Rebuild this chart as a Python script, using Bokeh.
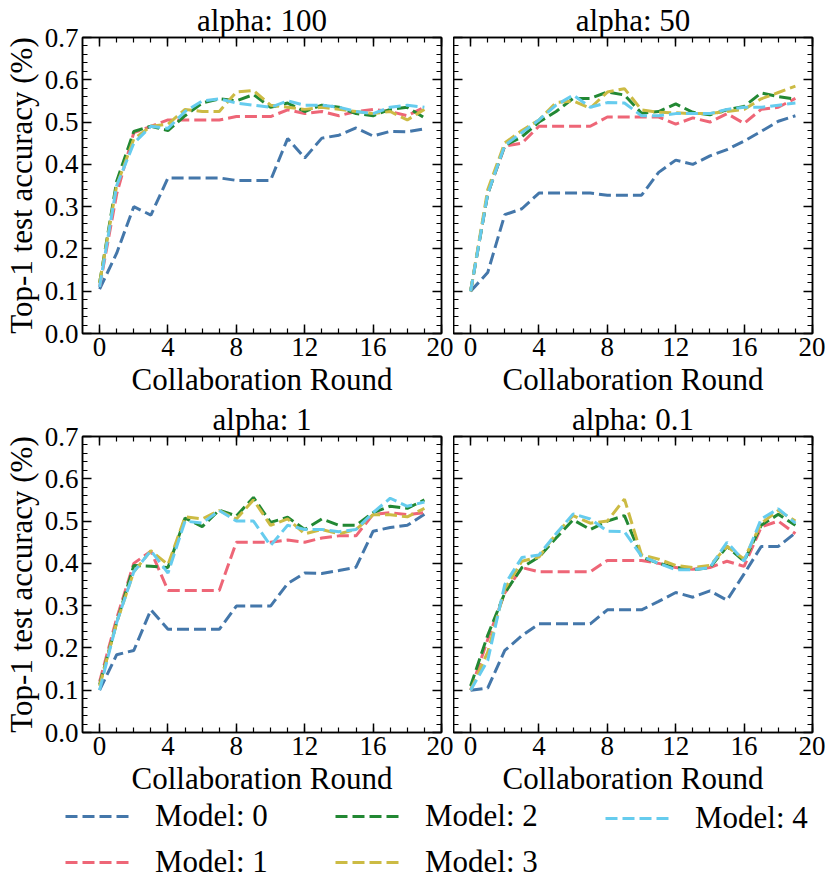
from bokeh.plotting import figure
from bokeh.models import (Range1d, FixedTicker, LinearAxis, Legend, LegendItem,
                          PrintfTickFormatter, CustomLabelingPolicy)
from bokeh.layouts import column, row
from bokeh.embed import file_html
from bokeh.resources import INLINE

# ---------------- data ----------------
rounds = list(range(20))
titles = ["alpha: 100", "alpha: 50", "alpha: 1", "alpha: 0.1"]
model_names = ["Model: 0", "Model: 1", "Model: 2", "Model: 3", "Model: 4"]
colors = ["#4477AA", "#EE6677", "#228833", "#CCBB44", "#66CCEE"]
x_ticks = [0, 4, 8, 12, 16, 20]
y_ticks = [0.0, 0.1, 0.2, 0.3, 0.4, 0.5, 0.6, 0.7]
x_label = "Collaboration Round"
y_label = "Top-1 test accuracy (%)"

# alpha: 100
a100_m0 = [0.105, 0.19, 0.30, 0.28, 0.368, 0.368, 0.368, 0.368, 0.362, 0.362,
           0.362, 0.461, 0.415, 0.462, 0.469, 0.486, 0.467, 0.478, 0.477, 0.484]
a100_m1 = [0.11, 0.33, 0.475, 0.49, 0.505, 0.505, 0.505, 0.505, 0.513, 0.513,
           0.513, 0.529, 0.52, 0.525, 0.515, 0.525, 0.53, 0.525, 0.515, 0.535]
a100_m2 = [0.12, 0.36, 0.478, 0.49, 0.48, 0.515, 0.545, 0.555, 0.55, 0.565,
           0.535, 0.545, 0.525, 0.54, 0.535, 0.52, 0.515, 0.53, 0.535, 0.51]
a100_m3 = [0.12, 0.35, 0.46, 0.49, 0.495, 0.53, 0.525, 0.525, 0.571, 0.575,
           0.54, 0.535, 0.53, 0.535, 0.53, 0.525, 0.52, 0.525, 0.505, 0.53]
a100_m4 = [0.11, 0.35, 0.45, 0.49, 0.485, 0.525, 0.55, 0.555, 0.545, 0.54,
           0.535, 0.55, 0.54, 0.54, 0.535, 0.525, 0.52, 0.535, 0.54, 0.535]

# alpha: 50
a50_m0 = [0.10, 0.144, 0.281, 0.295, 0.332, 0.332, 0.332, 0.332, 0.327, 0.327,
          0.327, 0.381, 0.41, 0.40, 0.42, 0.435, 0.455, 0.478, 0.502, 0.515]
a50_m1 = [0.10, 0.33, 0.443, 0.45, 0.49, 0.49, 0.49, 0.49, 0.512, 0.512,
          0.512, 0.512, 0.495, 0.51, 0.50, 0.52, 0.497, 0.53, 0.535, 0.556]
a50_m2 = [0.10, 0.33, 0.445, 0.465, 0.50, 0.525, 0.556, 0.556, 0.571, 0.564,
          0.521, 0.525, 0.543, 0.523, 0.517, 0.529, 0.537, 0.569, 0.56, 0.554]
a50_m3 = [0.10, 0.34, 0.451, 0.48, 0.505, 0.546, 0.55, 0.533, 0.571, 0.579,
          0.529, 0.523, 0.522, 0.52, 0.52, 0.525, 0.53, 0.555, 0.57, 0.585]
a50_m4 = [0.10, 0.33, 0.445, 0.475, 0.505, 0.54, 0.564, 0.535, 0.546, 0.545,
          0.515, 0.515, 0.52, 0.52, 0.52, 0.53, 0.535, 0.535, 0.54, 0.545]

# alpha: 1
a1_m0 = [0.10, 0.184, 0.194, 0.29, 0.244, 0.244, 0.244, 0.244, 0.299, 0.299,
         0.299, 0.352, 0.377, 0.376, 0.383, 0.391, 0.476, 0.485, 0.49, 0.516]
a1_m1 = [0.12, 0.27, 0.40, 0.429, 0.336, 0.336, 0.336, 0.336, 0.45, 0.45,
         0.45, 0.455, 0.45, 0.46, 0.465, 0.465, 0.516, 0.52, 0.515, 0.52]
a1_m2 = [0.113, 0.26, 0.395, 0.393, 0.39, 0.507, 0.487, 0.526, 0.512, 0.556,
         0.497, 0.509, 0.48, 0.505, 0.49, 0.49, 0.52, 0.535, 0.53, 0.55]
a1_m3 = [0.11, 0.26, 0.38, 0.43, 0.397, 0.51, 0.505, 0.525, 0.505, 0.55,
         0.49, 0.505, 0.47, 0.48, 0.47, 0.48, 0.515, 0.515, 0.51, 0.53]
a1_m4 = [0.10, 0.26, 0.38, 0.43, 0.377, 0.50, 0.495, 0.525, 0.50, 0.50,
         0.442, 0.49, 0.48, 0.48, 0.475, 0.48, 0.52, 0.554, 0.535, 0.545]

# alpha: 0.1
a01_m0 = [0.10, 0.105, 0.194, 0.229, 0.257, 0.257, 0.257, 0.257, 0.29, 0.29,
          0.29, 0.31, 0.331, 0.32, 0.335, 0.313, 0.375, 0.44, 0.44, 0.472]
a01_m1 = [0.10, 0.22, 0.33, 0.39, 0.38, 0.38, 0.38, 0.38, 0.407, 0.407,
          0.407, 0.40, 0.39, 0.386, 0.39, 0.405, 0.393, 0.486, 0.50, 0.47]
a01_m2 = [0.11, 0.23, 0.33, 0.39, 0.415, 0.46, 0.503, 0.48, 0.50, 0.513,
          0.415, 0.40, 0.39, 0.385, 0.39, 0.44, 0.405, 0.49, 0.516, 0.49]
a01_m3 = [0.10, 0.19, 0.34, 0.405, 0.415, 0.47, 0.513, 0.495, 0.50, 0.552,
          0.42, 0.41, 0.395, 0.39, 0.395, 0.44, 0.41, 0.495, 0.525, 0.50]
a01_m4 = [0.10, 0.17, 0.35, 0.414, 0.42, 0.47, 0.517, 0.505, 0.476, 0.475,
          0.417, 0.40, 0.385, 0.385, 0.39, 0.45, 0.405, 0.505, 0.529, 0.495]

panels = [
    [a100_m0, a100_m1, a100_m2, a100_m3, a100_m4],
    [a50_m0, a50_m1, a50_m2, a50_m3, a50_m4],
    [a1_m0, a1_m1, a1_m2, a1_m3, a1_m4],
    [a01_m0, a01_m1, a01_m2, a01_m3, a01_m4],
]

# ---------------- style ----------------
FONT = "Liberation Serif"
TICK_FS = "27px"
LABEL_FS = "31px"
DASH = "12 5"
FRAME_W = 359
FRAME_H = 296

x_minor = list(range(0, 21))
y_minor = [round(0.02 * i, 2) for i in range(36)]

NO_LABELS = """
for (const i of indices) { indices.unset(i) }
return indices
"""


def style_axis(ax, show_labels):
    ax.major_tick_in = 9
    ax.major_tick_out = 0
    ax.minor_tick_in = 5
    ax.minor_tick_out = 0
    ax.axis_line_color = "black"
    ax.axis_line_width = 1.5
    ax.major_tick_line_color = "black"
    ax.minor_tick_line_color = "black"
    ax.major_tick_line_width = 1.5
    ax.minor_tick_line_width = 1.2
    ax.major_label_text_font = FONT
    ax.major_label_text_font_size = TICK_FS
    ax.major_label_text_color = "black"
    ax.axis_label_text_font = FONT
    ax.axis_label_text_font_size = LABEL_FS
    ax.axis_label_text_font_style = "normal"
    ax.axis_label_text_color = "black"
    ax.major_label_standoff = 4
    ax.axis_label_standoff = 3
    if not show_labels:
        ax.major_label_text_font_size = "0px"
        ax.major_label_standoff = 0
        ax.major_label_policy = CustomLabelingPolicy(code=NO_LABELS)


def make_panel(idx):
    left = idx in (0, 2)
    p = figure(frame_width=FRAME_W, frame_height=FRAME_H,
               x_range=Range1d(-1, 20), y_range=Range1d(0, 0.7),
               title=titles[idx], output_backend="svg", toolbar_location=None,
               min_border_left=78 if left else 0,
               min_border_right=12 if left else 13,
               min_border_top=0, min_border_bottom=0)
    p.background_fill_color = "white"
    p.border_fill_color = "white"
    p.outline_line_color = "black"
    p.outline_line_width = 1.5
    p.xgrid.visible = False
    p.ygrid.visible = False
    p.title.text_font = FONT
    p.title.text_font_size = LABEL_FS
    p.title.text_font_style = "normal"
    p.title.text_color = "black"
    p.title.align = "center"
    p.title.standoff = 0

    xa = p.xaxis[0]
    xa.ticker = FixedTicker(ticks=x_ticks, minor_ticks=x_minor)
    xa.axis_label = x_label
    style_axis(xa, True)

    ya = p.yaxis[0]
    ya.ticker = FixedTicker(ticks=y_ticks, minor_ticks=y_minor)
    ya.formatter = PrintfTickFormatter(format="%.1f")
    if left:
        ya.axis_label = y_label
    style_axis(ya, left)

    top = LinearAxis(ticker=FixedTicker(ticks=x_ticks, minor_ticks=x_minor))
    style_axis(top, False)
    p.add_layout(top, "above")
    right = LinearAxis(ticker=FixedTicker(ticks=y_ticks, minor_ticks=y_minor))
    style_axis(right, False)
    p.add_layout(right, "right")

    for k, series in enumerate(panels[idx]):
        p.line(rounds, series, line_color=colors[k], line_dash=DASH,
               line_width=3)
    return p


figs = [make_panel(i) for i in range(4)]

# ---------------- legend ----------------
LEG_H = 92
lf = figure(width=823, height=LEG_H, output_backend="svg", toolbar_location=None,
            x_axis_type=None, y_axis_type=None, min_border=0,
            x_range=Range1d(1000, 1001), y_range=Range1d(1000, 1001))
lf.outline_line_color = None
lf.xgrid.visible = False
lf.ygrid.visible = False
# legend-only renderers (their data lie outside the visible range)
rends = [lf.line(rounds, panels[0][k], line_color=c, line_dash=DASH, line_width=3)
         for k, c in enumerate(colors)]

groups = [[0, 1], [2, 3], [4]]
xs = [65, 335, 605]
ROW_PITCH = 44
for g, x0 in zip(groups, xs):
    items = [LegendItem(label=model_names[k], renderers=[rends[k]]) for k in g]
    leg = Legend(items=items,
                 location=(x0, 10 if len(g) == 2 else 10 + ROW_PITCH),
                 orientation="vertical", padding=0, margin=0, spacing=10,
                 glyph_width=64, glyph_height=20, label_standoff=26,
                 label_text_font=FONT, label_text_font_size=LABEL_FS,
                 label_text_color="black",
                 border_line_alpha=0, background_fill_alpha=0)
    lf.add_layout(leg, "center")

layout = column(row(figs[0], figs[1]), row(figs[2], figs[3]), lf)
open("out.html", "w").write(file_html(layout, INLINE))
